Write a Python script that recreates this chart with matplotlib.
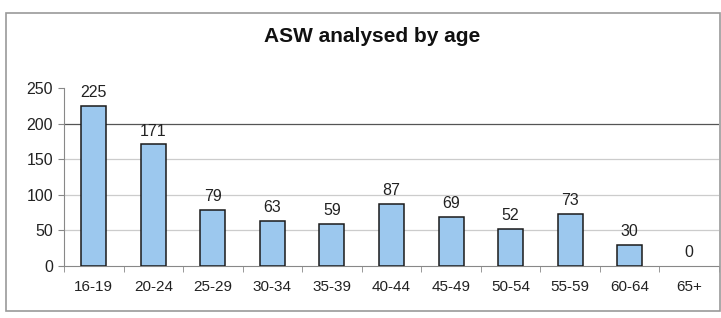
import matplotlib
matplotlib.use("Agg")
import matplotlib.pyplot as plt
from matplotlib.patches import Rectangle
import numpy as np

categories = ["16-19", "20-24", "25-29", "30-34", "35-39", "40-44", "45-49", "50-54", "55-59", "60-64", "65+"]
values = [225, 171, 79, 63, 59, 87, 69, 52, 73, 30, 0]
yticks = [0, 50, 100, 150, 200, 250]
title = "ASW analysed by age"

plt.rcParams['font.family'] = ['Liberation Sans', 'DejaVu Sans']

fig = plt.figure(figsize=(7.21, 3.18), dpi=100)
fig.patches.append(Rectangle((6/721, 1-311/318), 714/721, 298/318, transform=fig.transFigure,
                             fill=False, edgecolor="#9a9a9a", linewidth=1.2))
ax = fig.add_axes([64/721, 1-266/318, 655/721, 178/318])

x = np.arange(len(categories))
lw = [1.1 if v > 0 else 0 for v in values]
ax.bar(x, values, width=0.42, color="#9cc8ee", edgecolor="#1a1a1a", linewidth=lw, zorder=3)
for xi, v in zip(x, values):
    ax.text(xi, v + 8, str(v), ha="center", va="bottom", fontsize=11.5, color="#222222")

ax.set_xlim(-0.5, len(categories) - 0.5)
ax.set_ylim(0, 250)
ax.set_yticks(yticks)
ax.set_yticklabels([str(t) for t in yticks], fontsize=11.5, color="#222222")
ax.set_xticks(x)
ax.set_xticklabels(categories, fontsize=11, color="#222222")
ax.tick_params(axis="x", length=0, pad=10)
ax.set_xticks(np.arange(-0.5, len(categories)), minor=True)
ax.tick_params(axis="x", which="minor", length=4, color="#888888", direction="out")
ax.tick_params(axis="y", length=4, color="#888888", pad=4)

for g in [50, 100, 150, 200]:
    ax.axhline(g, color="#555555" if g == 200 else "#cccccc", linewidth=0.9, zorder=1)

for s in ["top", "right"]:
    ax.spines[s].set_visible(False)
ax.spines["left"].set_color("#888888")
ax.spines["bottom"].set_color("#888888")

fig.text(372/721, 1-36/318, title, ha="center", va="center", fontsize=15, fontweight="bold", color="#111111")

fig.savefig("out.png", dpi=100)
